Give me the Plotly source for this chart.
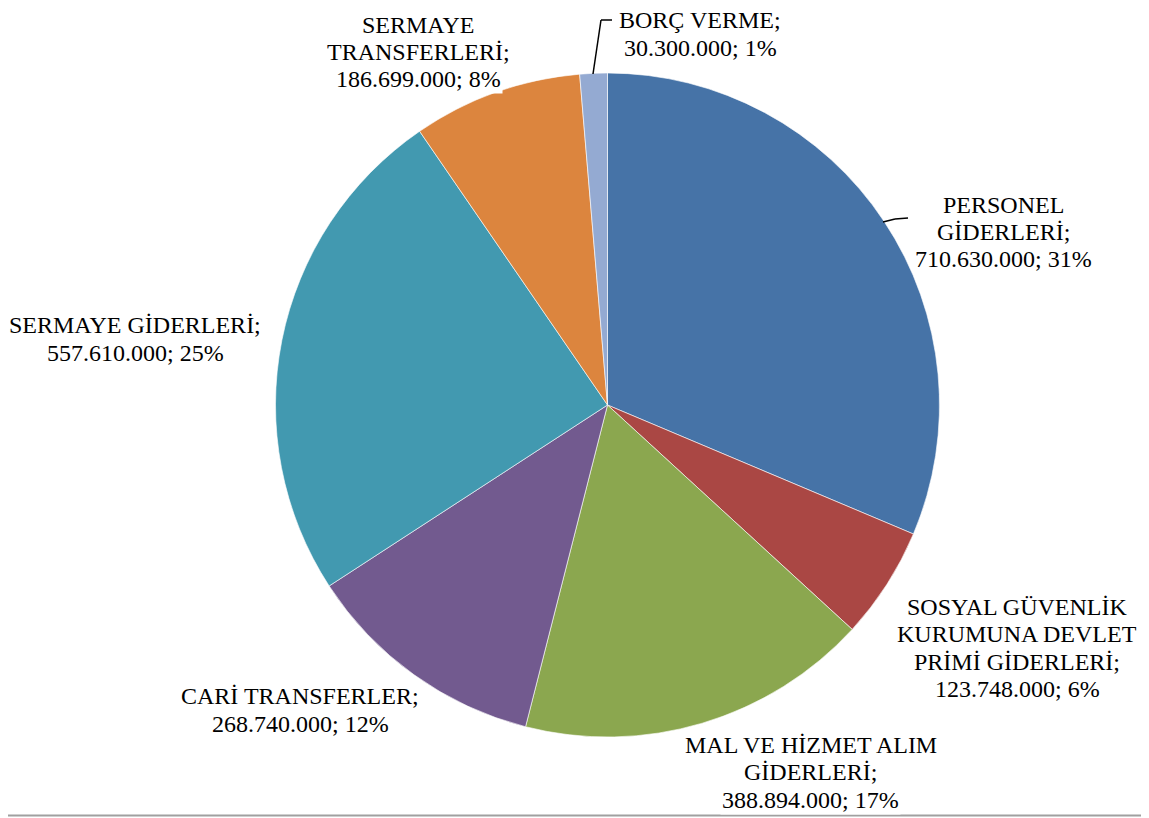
import plotly.graph_objects as go

# Budget expenditure by economic classification (TL)
categories = [
    "PERSONEL GİDERLERİ",
    "SOSYAL GÜVENLİK KURUMUNA DEVLET PRİMİ GİDERLERİ",
    "MAL VE HİZMET ALIM GİDERLERİ",
    "CARİ TRANSFERLER",
    "SERMAYE GİDERLERİ",
    "SERMAYE TRANSFERLERİ",
    "BORÇ VERME",
]
values = [710630000, 123748000, 388894000, 268740000, 557610000, 186699000, 30300000]
# percentages as printed on the chart
percents = [31, 6, 17, 12, 25, 8, 1]
# how each label is wrapped on the chart
label_lines = [
    ["PERSONEL", "GİDERLERİ;"],
    ["SOSYAL GÜVENLİK", "KURUMUNA DEVLET", "PRİMİ GİDERLERİ;"],
    ["MAL VE HİZMET ALIM", "GİDERLERİ;"],
    ["CARİ TRANSFERLER;"],
    ["SERMAYE GİDERLERİ;"],
    ["SERMAYE", "TRANSFERLERİ;"],
    ["BORÇ VERME;"],
]
colors = ["#4673A7", "#AA4744", "#8BA74F", "#725A8F", "#4299B0", "#DC853E", "#94AAD2"]

# page body has an 8px margin, so the figure is 8px smaller than the window
OFF = 8
W, H = 1149 - OFF, 818 - OFF
# label block centres in window pixels (x, y from top)
label_pos = [(1003, 232), (1017, 648), (811, 772), (300, 710),
             (135, 339), (418, 52), (700, 34)]
LINE_H = 27.5
FONT = "Liberation Serif"
PIE_C = (607.5, 405)
PIE_R = 332


def fx(x):
    return (x - OFF) / W


def fy(y):
    return 1 - (y - OFF) / H


def fmt(v):
    return f"{v:,}".replace(",", ".")


fig = go.Figure()

fig.add_trace(go.Pie(
    labels=categories,
    values=values,
    sort=False,
    direction='clockwise',
    rotation=0,
    marker=dict(colors=colors, line=dict(color='rgba(255,255,255,0.6)', width=1)),
    textinfo='none',
    hoverinfo='label+value+percent',
    showlegend=False,
    domain=dict(x=[fx(PIE_C[0] - PIE_R), fx(PIE_C[0] + PIE_R)],
                y=[fy(PIE_C[1] + PIE_R), fy(PIE_C[1] - PIE_R)]),
))

annotations = []
for lines, v, p, (cx, cy) in zip(label_lines, values, percents, label_pos):
    rows = lines + [f"{fmt(v)}; {p}%"]
    top = cy - LINE_H * (len(rows) - 1) / 2
    # the top label sits against the page edge, so it gets no backing box
    bg = 'rgba(0,0,0,0)' if cy < 40 else 'white'
    for i, row in enumerate(rows):
        annotations.append(dict(
            x=fx(cx), y=fy(top + i * LINE_H), xref='paper', yref='paper',
            text=row, showarrow=False, align='center',
            xanchor='center', yanchor='middle',
            font=dict(family=FONT, size=24, color='black'),
            bgcolor=bg, borderpad=0 if cy < 40 else 1,
        ))

# leader lines (window pixel coords -> paper)
def seg(x0, y0, x1, y1):
    return dict(type='line', xref='paper', yref='paper',
                x0=fx(x0), y0=fy(y0), x1=fx(x1), y1=fy(y1),
                line=dict(color='black', width=1.5))


shapes = [
    seg(593, 74, 601, 20), seg(601, 20, 612, 20),
    seg(883, 222, 895, 219), seg(895, 219, 908, 218),
    # bottom rule
    dict(type='line', xref='paper', yref='paper', x0=0, x1=1,
         y0=fy(815.5), y1=fy(815.5),
         line=dict(color='#A0A0A0', width=2)),
]

fig.update_layout(
    width=W, height=H,
    margin=dict(l=0, r=0, t=0, b=0),
    paper_bgcolor='white',
    plot_bgcolor='white',
    font=dict(family=FONT),
    annotations=annotations,
    shapes=shapes,
)

fig.write_html("out.html")
